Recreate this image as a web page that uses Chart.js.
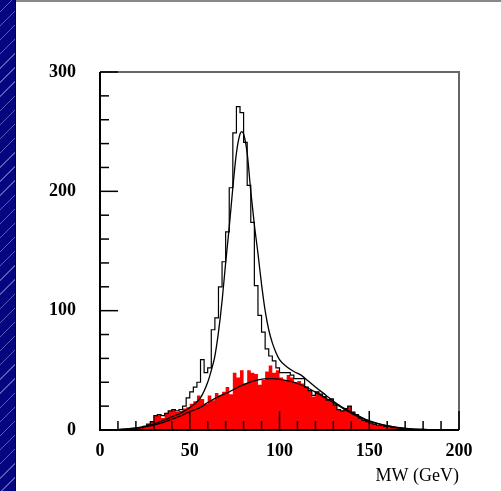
<!DOCTYPE html>
<html>
<head>
<meta charset="utf-8">
<script src="https://cdn.jsdelivr.net/npm/chart.js@4.4.1/dist/chart.umd.min.js"></script>
<style>
  html, body { margin: 0; padding: 0; background: #fff; }
  #wrap { position: relative; width: 501px; height: 491px; overflow: hidden; }
  #strip {
    position: absolute; left: 0; top: 0; width: 15px; height: 491px;
    background: repeating-linear-gradient(-45deg, #05057f 0px, #05057f 9px, #5a5ab8 9px, #5a5ab8 10px);
    border-right: 1px solid #000;
  }
  #topline { position: absolute; left: 16px; top: 0; width: 485px; height: 2px; background: #888; }
  canvas { position: absolute; left: 0; top: 0; }
</style>
</head>
<body>
<div id="wrap">
  <div id="strip"></div>
  <div id="topline"></div>
  <canvas id="mw" width="501" height="491"></canvas>
</div>
<script>
// 2 GeV bins from 0 to 200 GeV
const binWidth = 2;
const xTicks = [0, 50, 100, 150, 200];
const yTicks = [0, 100, 200, 300];

// all events (black outline)
const allCounts = [
  0, 0, 0, 0, 0, 0, 0, 0, 0, 0,          // 0-20
  1, 1, 2, 3, 5, 7, 12, 13, 12, 14,      // 20-40
  16, 17, 16, 17, 20, 27, 32, 36, 40, 59, // 40-60
  48, 52, 84, 94, 120, 141, 166, 203, 249, 271, // 60-80
  266, 241, 205, 174, 121, 96, 82, 68, 62, 58,  // 80-100
  52, 48, 48, 48, 46, 43, 43, 43, 36, 33,       // 100-120
  29, 32, 30, 28, 25, 26, 21, 17, 16, 18,       // 120-140
  20, 15, 13, 10, 8, 7, 6, 5, 4, 4,             // 140-160
  3, 3, 2, 2, 1, 1, 0, 0, 0, 0,                 // 160-180
  0, 0, 0, 0, 0, 0, 0, 0, 0, 0                  // 180-200
];

// background only (red filled)
const bkgCounts = [
  0, 0, 0, 0, 0, 0, 0, 0, 0, 0,
  1, 1, 2, 3, 5, 7, 12, 13, 10, 14,
  16, 17, 15, 16, 18, 19, 22, 24, 29, 26,
  22, 29, 25, 31, 29, 32, 36, 30, 48, 44,
  50, 39, 50, 48, 47, 38, 42, 49, 54, 48,
  50, 44, 42, 46, 44, 40, 41, 39, 36, 33,
  28, 32, 30, 28, 25, 26, 21, 17, 16, 18,
  20, 15, 13, 10, 8, 7, 6, 5, 4, 4,
  3, 3, 2, 2, 1, 1, 0, 0, 0, 0,
  0, 0, 0, 0, 0, 0, 0, 0, 0, 0
];

// fitted curves
const bkgFitX = [10, 20, 30, 40, 46, 50, 56, 60, 66, 72, 80, 88, 95, 102, 110, 116, 122, 130, 136, 142, 148, 154, 160, 166, 172, 180, 190];
const bkgFitY = [0.3, 1.5, 4, 9, 12.5, 15.5, 19, 23, 28, 32, 38, 42, 43, 42, 39, 35, 30, 23, 17.5, 12.5, 8.5, 5.5, 3.5, 2, 1, 0.4, 0.1];

const totFitX = [10, 20, 30, 40, 46, 52, 56, 60, 62, 64, 66, 68, 70, 72, 74, 76, 78, 79, 80, 82, 84, 86, 88, 90, 92, 94, 96, 98, 100, 104, 108, 112, 116, 120, 126, 132, 140, 148, 156, 164, 172, 180, 190];
const totFitY = [0.4, 1.8, 5, 11, 15, 21, 27, 40, 50, 62, 82, 108, 140, 170, 203, 232, 248, 250, 248, 232, 200, 172, 148, 122, 100, 84, 73, 65, 59, 53, 49, 46, 41, 36, 29, 22, 15, 9, 5, 2.5, 1.2, 0.5, 0.1];

function histPoints(counts) {
  const pts = counts.map((c, i) => ({ x: i * binWidth, y: c }));
  pts.push({ x: counts.length * binWidth, y: counts[counts.length - 1] });
  return pts;
}
function curvePoints(xs, ys) {
  return xs.map((x, i) => ({ x: x, y: ys[i] }));
}

const SERIF = '"Liberation Serif", "DejaVu Serif", serif';

// frame plus inward ticks, drawn from the scales
const framePlugin = {
  id: 'frame',
  afterDraw: (chart) => {
    const { ctx, chartArea: a, scales } = chart;
    ctx.save();
    ctx.lineWidth = 2;
    ctx.strokeStyle = '#666';
    ctx.beginPath();
    ctx.moveTo(a.left, a.top); ctx.lineTo(a.right, a.top); ctx.lineTo(a.right, a.bottom);
    ctx.stroke();
    ctx.strokeStyle = '#000';
    ctx.beginPath();
    ctx.moveTo(a.left, a.top); ctx.lineTo(a.left, a.bottom); ctx.lineTo(a.right, a.bottom);
    ctx.stroke();

    ctx.lineWidth = 1.5;
    for (let v = 0; v <= 200; v += 10) {
      const px = scales.x.getPixelForValue(v);
      const len = v % 50 === 0 ? 19 : 9;
      ctx.beginPath();
      ctx.moveTo(px, a.bottom); ctx.lineTo(px, a.bottom - len);
      ctx.stroke();
    }
    for (let v = 0; v <= 300; v += 20) {
      const py = scales.y.getPixelForValue(v);
      const len = v % 100 === 0 ? 18 : 9;
      ctx.beginPath();
      ctx.moveTo(a.left, py); ctx.lineTo(a.left + len, py);
      ctx.stroke();
    }
    ctx.restore();
  }
};

new Chart(document.getElementById('mw').getContext('2d'), {
  type: 'line',
  plugins: [framePlugin],
  data: {
    datasets: [
      {
        label: 'total fit',
        data: curvePoints(totFitX, totFitY),
        borderColor: '#000', borderWidth: 1.3,
        pointRadius: 0, cubicInterpolationMode: 'monotone', fill: false, order: 0
      },
      {
        label: 'background fit',
        data: curvePoints(bkgFitX, bkgFitY),
        borderColor: '#000', borderWidth: 1.3,
        pointRadius: 0, cubicInterpolationMode: 'monotone', fill: false, order: 0
      },
      {
        label: 'all',
        data: histPoints(allCounts),
        borderColor: '#000', borderWidth: 1.2,
        stepped: 'after', pointRadius: 0, fill: false, order: 1
      },
      {
        label: 'background',
        data: histPoints(bkgCounts),
        borderColor: '#ff0000', borderWidth: 0, backgroundColor: '#ff0000',
        stepped: 'after', pointRadius: 0, fill: 'origin', order: 2
      }
    ]
  },
  options: {
    responsive: false,
    animation: false,
    devicePixelRatio: 1,
    layout: { padding: { left: 0, top: 72, right: 42, bottom: 0 } },
    plugins: { legend: { display: false }, tooltip: { enabled: false } },
    scales: {
      x: {
        type: 'linear', min: 0, max: 200,
        afterFit: (s) => { s.height = 61; },
        afterBuildTicks: (s) => { s.ticks = xTicks.map(v => ({ value: v })); },
        grid: { display: false, drawTicks: false },
        border: { display: false },
        ticks: { padding: 11, color: '#000', font: { family: SERIF, size: 18, weight: 'bold' } },
        title: {
          display: true, text: 'MW (GeV)', align: 'end', color: '#000',
          font: { family: SERIF, size: 18 }, padding: { top: 0, bottom: 4 }
        }
      },
      y: {
        type: 'linear', min: 0, max: 300,
        afterFit: (s) => { s.width = 100; },
        afterBuildTicks: (s) => { s.ticks = yTicks.map(v => ({ value: v })); },
        grid: { display: false, drawTicks: false },
        border: { display: false },
        ticks: { padding: 24, color: '#000', font: { family: SERIF, size: 18, weight: 'bold' } }
      }
    }
  }
});
</script>
</body>
</html>
